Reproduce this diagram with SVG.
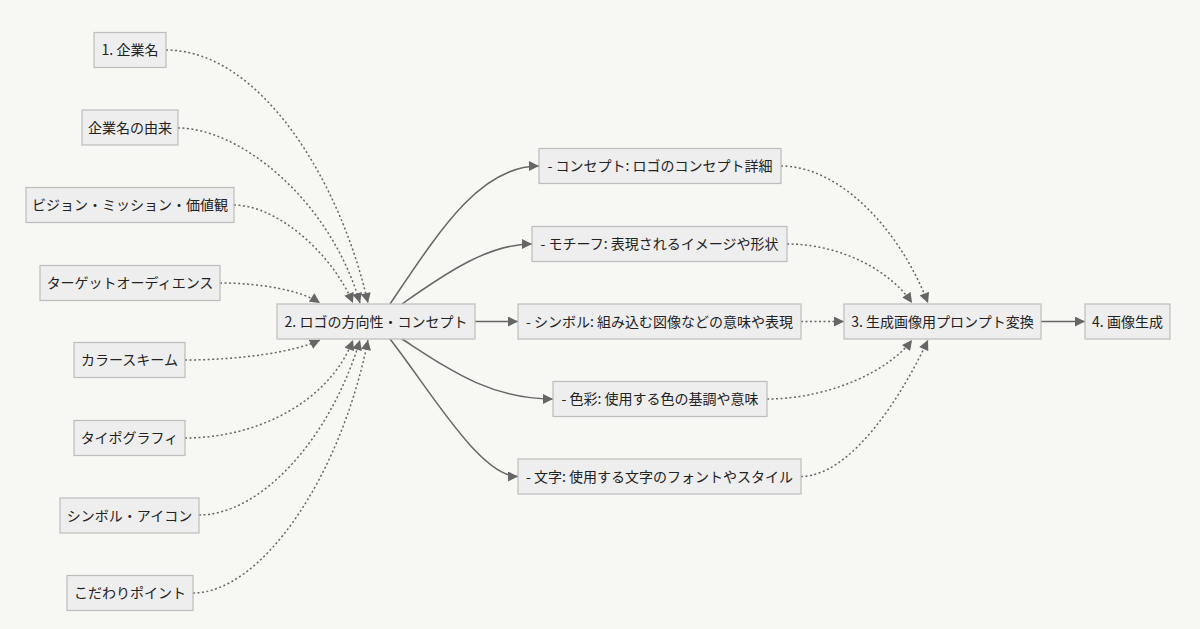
<svg xmlns="http://www.w3.org/2000/svg" width="1200" height="629" viewBox="0 0 1200 629">
<style>
.bg{fill:#f7f7f4}
.node rect{fill:#eeeeee;stroke:#bdbdbd;stroke-width:1.2}
.node text{font-family:"Noto Sans CJK JP","Noto Sans",sans-serif;font-size:14px;fill:#222;text-anchor:middle}
.e{fill:none;stroke:#666;stroke-width:1.5}
.d{stroke-dasharray:2 2.5}
</style>
<defs>
<marker id="ah" markerUnits="userSpaceOnUse" viewBox="0 0 10 10" refX="10" refY="5" markerWidth="11" markerHeight="10" orient="auto">
<path d="M0,0 L10,5 L0,10 z" fill="#666"/>
</marker>
</defs>
<rect class="bg" x="0" y="0" width="1200" height="629"/>
<g id="edges">
<path class="e d" marker-end="url(#ah)" d="M166,50 C260,50 340,180 368,303"/>
<path class="e d" marker-end="url(#ah)" d="M178,128 C240,128 330,200 360,303"/>
<path class="e d" marker-end="url(#ah)" d="M234,205 C275,205 330,250 353,303"/>
<path class="e d" marker-end="url(#ah)" d="M220,283 C260,283 300,290 320,303"/>
<path class="e d" marker-end="url(#ah)" d="M185,360 C240,360 295,352 320,340"/>
<path class="e d" marker-end="url(#ah)" d="M185,438 C260,438 330,400 353,340"/>
<path class="e d" marker-end="url(#ah)" d="M199,515 C260,515 330,440 360,340"/>
<path class="e d" marker-end="url(#ah)" d="M193,593 C260,593 340,480 368,340"/>
<path class="e" marker-end="url(#ah)" d="M390,304 C440,230 480,166 539,166"/>
<path class="e" marker-end="url(#ah)" d="M402,304 C450,270 490,244 532,244"/>
<path class="e" marker-end="url(#ah)" d="M475,321.5 L518,321.5"/>
<path class="e" marker-end="url(#ah)" d="M402,339 C450,370 490,399 553,399"/>
<path class="e" marker-end="url(#ah)" d="M390,339 C430,390 480,476.5 518,476.5"/>
<path class="e d" marker-end="url(#ah)" d="M781,166 C840,166 900,230 928,303"/>
<path class="e d" marker-end="url(#ah)" d="M787,244 C840,244 890,270 912,303"/>
<path class="e d" marker-end="url(#ah)" d="M801,321.5 L844,321.5"/>
<path class="e d" marker-end="url(#ah)" d="M767,399 C830,399 890,370 912,340"/>
<path class="e d" marker-end="url(#ah)" d="M801,476.5 C850,476 900,400 928,340"/>
<path class="e" marker-end="url(#ah)" d="M1041,321.5 L1085,321.5"/>
</g>
<g id="n1" class="node"><rect x="94" y="32.5" width="72" height="35"/><text x="130" y="55">1. 企業名</text></g>
<g id="n2" class="node"><rect x="82" y="110" width="96" height="35"/><text x="130" y="132.5">企業名の由来</text></g>
<g id="n3" class="node"><rect x="26" y="187.5" width="208" height="35"/><text x="130" y="210">ビジョン・ミッション・価値観</text></g>
<g id="n4" class="node"><rect x="40" y="265.5" width="180" height="35"/><text x="130" y="288">ターゲットオーディエンス</text></g>
<g id="n5" class="node"><rect x="74" y="342.5" width="111" height="35"/><text x="129.5" y="365">カラースキーム</text></g>
<g id="n6" class="node"><rect x="74" y="420.5" width="111" height="35"/><text x="129.5" y="443">タイポグラフィ</text></g>
<g id="n7" class="node"><rect x="60" y="498" width="139" height="35"/><text x="129.5" y="520.5">シンボル・アイコン</text></g>
<g id="n8" class="node"><rect x="67" y="575.5" width="126" height="35"/><text x="130" y="598">こだわりポイント</text></g>
<g id="c2" class="node"><rect x="277" y="304" width="198" height="35"/><text x="376" y="326.5">2. ロゴの方向性・コンセプト</text></g>
<g id="m1" class="node"><rect x="539" y="148.5" width="242" height="35"/><text x="660" y="171">- コンセプト: ロゴのコンセプト詳細</text></g>
<g id="m2" class="node"><rect x="532" y="226.5" width="255" height="35"/><text x="659.5" y="249">- モチーフ: 表現されるイメージや形状</text></g>
<g id="m3" class="node"><rect x="518" y="304" width="283" height="35"/><text x="659.5" y="326.5">- シンボル: 組み込む図像などの意味や表現</text></g>
<g id="m4" class="node"><rect x="553" y="381.5" width="214" height="35"/><text x="660" y="404">- 色彩: 使用する色の基調や意味</text></g>
<g id="m5" class="node"><rect x="518" y="459" width="283" height="35"/><text x="659.5" y="481.5">- 文字: 使用する文字のフォントやスタイル</text></g>
<g id="c3" class="node"><rect x="844" y="304" width="197" height="35"/><text x="942.5" y="326.5">3. 生成画像用プロンプト変換</text></g>
<g id="c4" class="node"><rect x="1085" y="304" width="85" height="35"/><text x="1127.5" y="326.5">4. 画像生成</text></g>
</svg>
